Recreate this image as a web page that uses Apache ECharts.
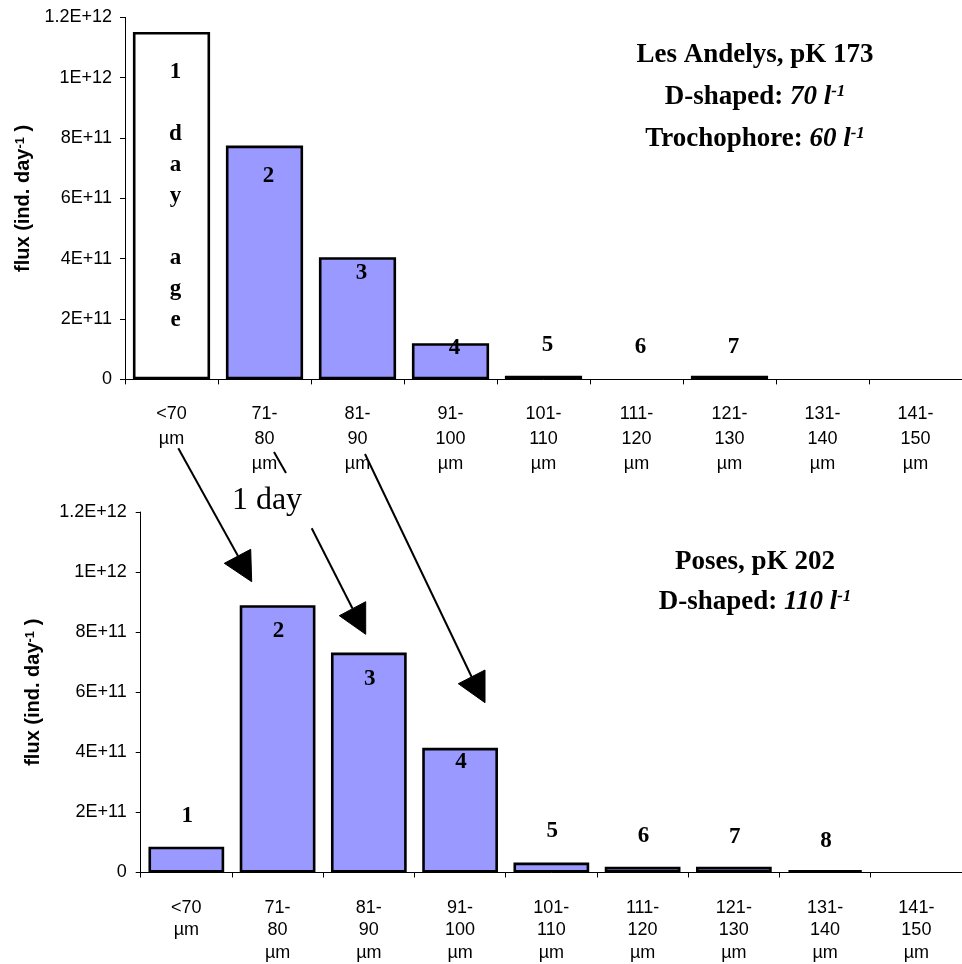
<!DOCTYPE html>
<html>
<head>
<meta charset="utf-8">
<script src="https://cdn.jsdelivr.net/npm/echarts@6/dist/echarts.min.js"></script>
<style>
  html, body { margin: 0; padding: 0; background: #fff; }
  #chart { width: 962px; height: 964px; }
</style>
</head>
<body>
<div id="chart"></div>
<script>
// ---- data ----
const categories = ['<70\nµm', '71-\n80\nµm', '81-\n90\nµm', '91-\n100\nµm', '101-\n110\nµm',
                    '111-\n120\nµm', '121-\n130\nµm', '131-\n140\nµm', '141-\n150\nµm'];
const topFlux    = [1.152e12, 0.775e12, 0.405e12, 0.12e12, 0.012e12, 0, 0.012e12, 0, 0];
const bottomFlux = [0.086e12, 0.89e12, 0.732e12, 0.415e12, 0.033e12, 0.019e12, 0.019e12, 0.008e12, 0];
const yTickLabels = ['0', '2E+11', '4E+11', '6E+11', '8E+11', '1E+12', '1.2E+12'];

// day-age tags (text, category index, height in flux units)
const topTags    = ['1\n\nd\na\ny\n\na\ng\ne', '2', '3', '4', '5', '6', '7'];
const topTagCat  = [0, 1, 2, 3, 4, 5, 6];
const topTagY    = [0.608e12, 0.673e12, 0.352e12, 0.103e12, 0.114e12, 0.108e12, 0.106e12];
const botTags    = ['1', '2', '3', '4', '5', '6', '7', '8'];
const botTagCat  = [0, 1, 2, 3, 4, 5, 6, 7];
const botTagY    = [0.188e12, 0.805e12, 0.645e12, 0.366e12, 0.138e12, 0.120e12, 0.117e12, 0.104e12];

// ---- chart ----
const SANS = 'Liberation Sans';
const SERIF = 'Liberation Serif';
const chart = echarts.init(document.getElementById('chart'), null, { renderer: 'canvas' });

function xAxisCfg(gi, lh, margin) {
  return {
    gridIndex: gi, type: 'category', data: categories,
    axisLine: { lineStyle: { color: '#000', width: 1 } },
    axisTick: { show: true, length: 5, lineStyle: { color: '#000' } },
    axisLabel: { interval: 0, color: '#000', fontFamily: SANS, fontSize: 18, lineHeight: lh, margin: margin }
  };
}
function yAxisCfg(gi, gap, margin) {
  return {
    gridIndex: gi, type: 'value', min: 0, max: 1.2e12, interval: 2e11,
    splitLine: { show: false },
    axisLine: { show: true, lineStyle: { color: '#000', width: 1 } },
    axisTick: { show: true, length: 5, lineStyle: { color: '#000' } },
    axisLabel: { color: '#000', fontFamily: SANS, fontSize: 18, margin: margin,
                 formatter: v => yTickLabels[Math.round(v / 2e11)] },
    name: '{a|flux (ind. day}{s|-1}{a| )}',
    nameLocation: 'middle', nameRotate: 90, nameGap: gap,
    nameTextStyle: {
      rich: {
        a: { fontFamily: SANS, fontWeight: 'bold', fontSize: 20, color: '#000' },
        s: { fontFamily: SANS, fontWeight: 'bold', fontSize: 13, color: '#000', verticalAlign: 'top', padding: [0, 0, 4, 0] }
      }
    }
  };
}
function barSeries(gi, values, firstWhite) {
  return {
    type: 'bar', xAxisIndex: gi, yAxisIndex: gi,
    barCategoryGap: '17%',
    data: values.map(v => (v === 0 ? null : v)),
    itemStyle: {
      borderColor: '#000', borderWidth: 2.6,
      color: p => (firstWhite && p.dataIndex === 0 ? '#ffffff' : '#9999ff')
    },
    silent: true
  };
}

const hdrRich = {
  b: { fontFamily: SERIF, fontWeight: 'bold', fontSize: 27, fill: '#000' },
  i: { fontFamily: SERIF, fontWeight: 'bold', fontStyle: 'italic', fontSize: 27, fill: '#000' },
  s: { fontFamily: SERIF, fontWeight: 'bold', fontStyle: 'italic', fontSize: 17, fill: '#000', verticalAlign: 'top', padding: [0, 0, 10, 0] }
};
function hdr(x, y, text) {
  return { type: 'text', x: x, y: y, z: 10,
           style: { text: text, rich: hdrRich, align: 'center', verticalAlign: 'middle' } };
}
function line(pts) {
  return { type: 'polyline', z: 10, shape: { points: pts }, style: { stroke: '#000', lineWidth: 2, fill: null } };
}
function head(pts) {
  return { type: 'polygon', z: 10, shape: { points: pts }, style: { fill: '#000', stroke: '#000', lineWidth: 1 } };
}

const graphics = [
  hdr(755, 55, '{b|Les Andelys, pK 173}'),
  hdr(755, 97, '{b|D-shaped: }{i|70 l}{s|-1}'),
  hdr(755, 139, '{b|Trochophore: }{i|60 l}{s|-1}'),
  hdr(755, 562, '{b|Poses, pK 202}'),
  hdr(755, 602, '{b|D-shaped: }{i|110 l}{s|-1}'),
  { type: 'text', x: 267, y: 501, z: 10,
    style: { text: '1 day', font: '32px "Liberation Serif"', fill: '#000', align: 'center', verticalAlign: 'middle' } },
  line([[178.3, 448.3], [238, 556]]),
  head([[224.3, 563.3], [250.7, 549.3], [251.7, 581.7]]),
  line([[274, 452], [286, 473]]),
  line([[311.7, 528.3], [352.5, 608.5]]),
  head([[339.3, 615.7], [365.7, 601.7], [365.7, 634.3]]),
  line([[365, 454], [471.7, 677]]),
  head([[458.3, 683.7], [485, 670], [485, 702.7]])
];

chart.setOption({
  animation: false,
  backgroundColor: '#fff',
  grid: [
    { left: 125, top: 17.4, width: 845, height: 362 },
    { left: 140.7, top: 512, width: 829, height: 361.3 }
  ],
  xAxis: [xAxisCfg(0, 25, 22), xAxisCfg(1, 22.5, 24)],
  yAxis: [yAxisCfg(0, 88, 13), yAxisCfg(1, 97, 14)],
  series: [
    barSeries(0, topFlux, true),
    barSeries(1, bottomFlux, false)
  ]
});

// place the day-age tags through the axes' own scales
function tagTexts(gi, tags, cats, ys, dx, lh) {
  return tags.map((t, i) => {
    const p = chart.convertToPixel({ gridIndex: gi }, [cats[i], ys[i]]);
    return { type: 'text', x: p[0] + dx, y: p[1], z: 8,
             style: { text: t, font: 'bold 23px "Liberation Serif"', fill: '#000',
                      align: 'center', verticalAlign: 'middle', lineHeight: lh } };
  });
}
chart.setOption({
  graphic: graphics
    .concat(tagTexts(0, topTags, topTagCat, topTagY, 4, 31))
    .concat(tagTexts(1, botTags, botTagCat, botTagY, 1, 24))
});
</script>
</body>
</html>
